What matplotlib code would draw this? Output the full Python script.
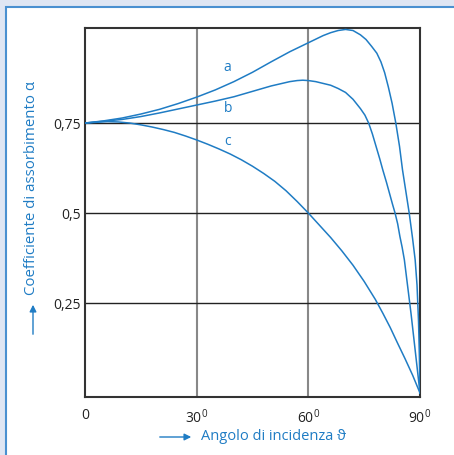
import matplotlib.pyplot as plt
from matplotlib.patches import Rectangle, FancyArrowPatch

plt.rcParams['font.family'] = ['Open Sans', 'DejaVu Sans']

# valori (angolo in gradi, coefficiente alfa)
a_deg = [0, 5, 10, 15, 20, 25, 30, 35, 40, 45, 50, 55, 60, 62, 64, 66, 68, 70, 72,
         74, 75.5, 77, 78.4, 79.5, 80.5, 81.5, 82.5, 83.5, 84.5, 85.3, 86.2, 87.1,
         88, 88.7, 89.2, 89.6, 89.85, 90]
a_val = [0.75, 0.756, 0.764, 0.775, 0.788, 0.804, 0.822, 0.842, 0.865, 0.891, 0.92,
         0.948, 0.973, 0.983, 0.993, 1.001, 1.007, 1.01, 1.007, 0.995, 0.982, 0.963,
         0.944, 0.92, 0.89, 0.85, 0.805, 0.75, 0.685, 0.62, 0.56, 0.5, 0.43, 0.37,
         0.3, 0.2, 0.1, 0.0]

b_deg = [0, 5, 10, 15, 20, 25, 30, 35, 40, 45, 50, 55, 57, 58.5, 60, 62, 64, 66, 68,
         70, 72, 74, 75.2, 76.2, 77.2, 78.2, 79.2, 80, 81, 81.8, 82.6, 83.3, 84,
         84.6, 85.2, 85.8, 86.4, 87, 87.6, 88.2, 88.8, 89.4, 90]
b_val = [0.75, 0.755, 0.76, 0.768, 0.778, 0.789, 0.80, 0.811, 0.823, 0.838, 0.853,
         0.865, 0.868, 0.869, 0.868, 0.865, 0.86, 0.855, 0.846, 0.835, 0.816, 0.79,
         0.772, 0.75, 0.72, 0.685, 0.65, 0.62, 0.585, 0.555, 0.525, 0.5, 0.47,
         0.435, 0.405, 0.37, 0.32, 0.27, 0.22, 0.165, 0.11, 0.055, 0.0]

c_deg = [0, 3, 6, 9, 12, 15, 18, 21, 24, 27, 30, 33, 36, 39, 42, 45, 48, 51, 54, 57,
         60, 63, 66, 69, 72, 75, 78, 80, 82, 84, 86, 88, 90]
c_val = [0.75, 0.752, 0.754, 0.753, 0.75, 0.745, 0.739, 0.732, 0.724, 0.714, 0.703,
         0.691, 0.678, 0.664, 0.648, 0.63, 0.61, 0.588, 0.562, 0.532, 0.5, 0.466,
         0.432, 0.395, 0.355, 0.31, 0.26, 0.222, 0.182, 0.138, 0.095, 0.05, 0.0]

x_ticks = [0, 30, 60, 90]
x_labels = ["0", r"30$^{\mathregular{0}}$", r"60$^{\mathregular{0}}$", r"90$^{\mathregular{0}}$"]
y_ticks = [0.25, 0.5, 0.75]
y_labels = ["0,25", "0,5", "0,75"]

blue = "#1f7cc4"
W, H = 454, 455

fig = plt.figure(figsize=(W / 100, H / 100), dpi=100)
fig.patch.set_facecolor("#dfe6f3")
# pannello bianco con bordo blu
fig.patches.append(Rectangle((6 / W, -0.01), 1.0, 1 - 7 / H + 0.01, transform=fig.transFigure,
                             facecolor="white", edgecolor="#4a90d0", linewidth=1.5, zorder=-10))

ax = fig.add_axes([85 / W, 1 - 397 / H, 335 / W, 369 / H])
ax.set_xlim(0, 90)
ax.set_ylim(-0.011, 1.014)

for v in [30, 60]:
    ax.axvline(v, color="#888888", linewidth=1.5, zorder=1)
for v in y_ticks:
    ax.axhline(v, color="#222222", linewidth=1.0, zorder=1)

ax.plot(a_deg, a_val, color=blue, linewidth=1.1, zorder=3)
ax.plot(b_deg, b_val, color=blue, linewidth=1.1, zorder=3)
ax.plot(c_deg, c_val, color=blue, linewidth=1.1, zorder=3)

ax.text(38.2, 0.905, "a", color=blue, fontsize=10, ha="center", va="center")
ax.text(38.4, 0.79, "b", color=blue, fontsize=10, ha="center", va="center")
ax.text(38.2, 0.70, "c", color=blue, fontsize=10, ha="center", va="center")

for s in ax.spines.values():
    s.set_color("#333333")
    s.set_linewidth(1.5)

ax.set_xticks(x_ticks)
ax.set_xticklabels(x_labels)
ax.set_yticks(y_ticks)
ax.set_yticklabels(y_labels)
ax.tick_params(length=0, labelsize=10, colors="#222222")
ax.tick_params(axis="y", pad=3)
ax.tick_params(axis="x", pad=8)

# etichette degli assi con frecce
fig.text(201 / W, 1 - 437 / H, "Angolo di incidenza ϑ", color=blue, fontsize=10.5,
         ha="left", va="center")
fig.patches.append(FancyArrowPatch(
    (157 / W, 1 - 437 / H), (194 / W, 1 - 437 / H), transform=fig.transFigure,
    arrowstyle="-|>,head_length=4,head_width=2", color=blue, linewidth=1))

fig.text(32 / W, 1 - 188 / H, "Coefficiente di assorbimento α", color=blue, fontsize=10.8,
         rotation=90, ha="center", va="center")
fig.patches.append(FancyArrowPatch(
    (33 / W, 1 - 337 / H), (33 / W, 1 - 302 / H), transform=fig.transFigure,
    arrowstyle="-|>,head_length=4,head_width=2", color=blue, linewidth=1))

fig.savefig("out.png", dpi=100)
